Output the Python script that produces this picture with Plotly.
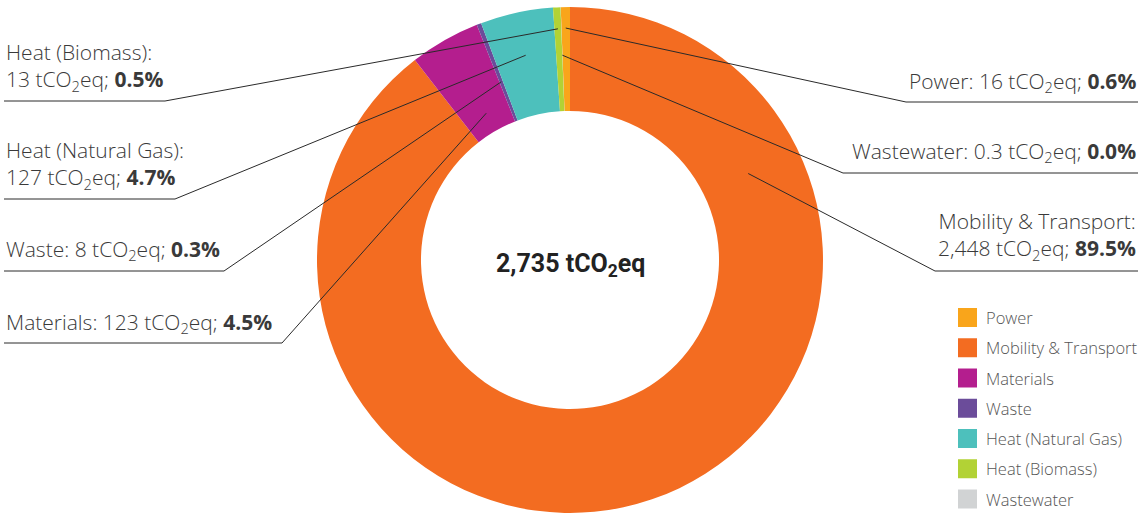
import math
import plotly.graph_objects as go

# ---------------- data ----------------
categories = ["Power", "Mobility & Transport", "Materials", "Waste",
              "Heat (Natural Gas)", "Heat (Biomass)", "Wastewater"]
values = [16, 2448, 123, 8, 127, 13, 0.3]
value_text = ["16", "2,448", "123", "8", "127", "13", "0.3"]
pct_text = ["0.6%", "89.5%", "4.5%", "0.3%", "4.7%", "0.5%", "0.0%"]
total_text = "2,735"
colors = ["#F9A51B", "#F36C21", "#B41E8E", "#6B4C9A", "#4DC0BC", "#B2D235", "#D1D3D4"]

# ---------------- geometry (pixels) ----------------
W, H = 1140, 514
CX, CY, R = 570, 260, 253
HOLE = 0.589
FONT = "Open Sans"
TXT = "#3a3a3a"

total = sum(values)
rotation = -values[0] / total * 360.0   # Power ends at 12 o'clock


def px(x):
    return x / W


def py(y):
    return 1 - y / H


fig = go.Figure()
fig.add_trace(go.Pie(
    labels=categories, values=values, marker=dict(colors=colors, line=dict(width=0)),
    hole=HOLE, sort=False, direction="clockwise", rotation=rotation,
    textinfo="none", hoverinfo="label+value+percent", showlegend=False,
    domain=dict(x=[px(CX - R), px(CX + R)], y=[1 - (CY + R) / H, 1 - (CY - R) / H]),
))

# slice angles (degrees clockwise from 12 o'clock)
starts = []
acc = rotation
for v in values:
    starts.append(acc)
    acc += v / total * 360.0

# label layout: side, text centre y, underline y, underline inner x, anchor radius, anchor fraction, lines
label_layout = {
    "Power":                ("right", 82,  102, 906, 0.917, 0.5, 1),
    "Mobility & Transport": ("right", 236.5, 271, 935, 0.783, 0.199, 2),
    "Materials":            ("left",  323, 343, 282, 0.668, 0.5, 1),
    "Waste":                ("left",  250, 271, 224, 0.755, 0.5, 1),
    "Heat (Natural Gas)":   ("left",  165, 199, 175, 0.828, 0.5, 2),
    "Heat (Biomass)":       ("left",  67.5, 101, 165, 0.915, 0.5, 2),
    "Wastewater":           ("right", 152, 173, 843, 0.81, 0.5, 1),
}

shapes = []
annotations = []
for i, cat in enumerate(categories):
    side, ty, uy, ux, rf, af, nlines = label_layout[cat]
    ang = math.radians(starts[i] + af * values[i] / total * 360.0)
    ax = CX + rf * R * math.sin(ang)
    ay = CY - rf * R * math.cos(ang)
    edge = 4 if side == "left" else 1138
    path = f"M {px(ax)} {py(ay)} L {px(ux)} {py(uy)} L {px(edge)} {py(uy)}"
    shapes.append(dict(type="path", xref="paper", yref="paper", path=path,
                       line=dict(color="#2a2a2a", width=1)))
    body = f"{value_text[i]} tCO<sub>2</sub>eq; <b>{pct_text[i]}</b>"
    if nlines == 2:
        text = f"{cat}:<br>{body}"
    else:
        text = f"{cat}: {body}"
    annotations.append(dict(
        x=px(edge), y=py(ty), xref="paper", yref="paper", text=text, showarrow=False,
        xanchor=side, yanchor="middle", align=side,
        font=dict(family=FONT, size=21, color=TXT, weight=300)))

# centre total
annotations.append(dict(
    x=px(CX), y=py(265), xref="paper", yref="paper",
    text=f"<b>{total_text} tCO<sub>2</sub>eq</b>", showarrow=False,
    xanchor="center", yanchor="middle",
    font=dict(family="Roboto", size=25, color="#222222")))

# legend (manual, to match swatch size and spacing)
LX, LY0, LSTEP, SW = 958, 317.5, 30.25, 19
for i, cat in enumerate(categories):
    yc = LY0 + i * LSTEP
    shapes.append(dict(type="rect", xref="paper", yref="paper",
                       x0=px(LX), x1=px(LX + SW), y0=py(yc - SW / 2), y1=py(yc + SW / 2),
                       fillcolor=colors[i], line=dict(width=0)))
    annotations.append(dict(x=px(LX + 26), y=py(yc), xref="paper", yref="paper",
                            text=cat, showarrow=False, xanchor="left", yanchor="middle",
                            font=dict(family=FONT, size=16.5, color="#555555", weight=300)))

fig.update_layout(
    width=W, height=H, margin=dict(l=0, r=0, t=0, b=0),
    paper_bgcolor="white", plot_bgcolor="white",
    shapes=shapes, annotations=annotations, showlegend=False,
)

fig.write_html("out.html", config={"displayModeBar": False},
               post_script="document.body.style.margin='0';")
